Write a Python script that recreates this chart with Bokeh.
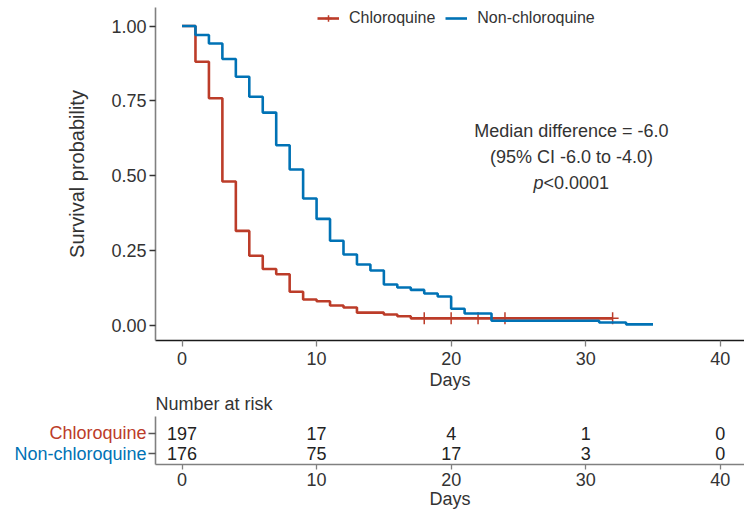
from bokeh.plotting import figure
from bokeh.layouts import column, row
from bokeh.models import Range1d, FixedTicker, Legend, LegendItem, NumeralTickFormatter
from bokeh.core.properties import value
from bokeh.embed import file_html
from bokeh.resources import INLINE

# ---------------- data ----------------
groups = ["Chloroquine", "Non-chloroquine"]

chl_time = [0, 1, 2, 3, 4, 5, 6, 7, 8, 9, 10, 11, 12, 13, 15, 16, 17, 32]
chl_surv = [1.0, 0.881, 0.759, 0.481, 0.316, 0.233, 0.189, 0.171, 0.113, 0.087,
            0.081, 0.067, 0.060, 0.043, 0.037, 0.031, 0.024, 0.024]

non_time = [0, 1, 2, 3, 4, 5, 6, 7, 8, 9, 10, 11, 12, 13, 14, 15, 16, 17, 18, 19,
            20, 21, 23, 31, 33, 35]
non_surv = [1.0, 0.970, 0.942, 0.890, 0.831, 0.764, 0.711, 0.602, 0.521, 0.424,
            0.356, 0.283, 0.237, 0.204, 0.184, 0.137, 0.127, 0.119, 0.107, 0.097,
            0.056, 0.040, 0.016, 0.010, 0.004, 0.004]

chl_censor_time = [18, 20, 22, 24, 32]
chl_censor_surv = [0.024, 0.024, 0.024, 0.024, 0.024]

risk_times = [0, 10, 20, 30, 40]
risk_chl = [197, 17, 4, 1, 0]
risk_non = [176, 75, 17, 3, 0]

x_ticks = [0, 10, 20, 30, 40]
y_ticks = [0.0, 0.25, 0.5, 0.75, 1.0]

annot_lines = ["Median difference = -6.0", "(95% CI -6.0 to -4.0)"]
p_italic = "p"
p_rest = "<0.0001"

# ---------------- style ----------------
RED = "#BC3C29"
BLUE = "#0072B5"
FONT = "Liberation Sans"
TXT = "#333333"
FS = "18px"

x_range = Range1d(-1.97, 41.8)


def style_axis(ax, line_color, tick_color):
    ax.axis_line_color = line_color
    ax.axis_line_width = 1.6
    ax.major_tick_line_color = tick_color
    ax.major_tick_line_width = 1.3
    ax.major_tick_out = 6
    ax.major_tick_in = 0
    ax.minor_tick_line_color = None
    ax.major_label_text_font = FONT
    ax.major_label_text_font_size = FS
    ax.major_label_text_color = TXT
    ax.axis_label_text_font = FONT
    ax.axis_label_text_font_size = FS
    ax.axis_label_text_font_style = "normal"
    ax.axis_label_text_color = TXT


# ---------------- main KM plot ----------------
p = figure(width=744, height=392, x_range=x_range, y_range=Range1d(-0.05, 1.062),
           output_backend="svg", toolbar_location=None,
           min_border_left=155, min_border_right=0, min_border_top=7, min_border_bottom=49)
p.outline_line_color = None
p.grid.grid_line_color = None

style_axis(p.xaxis[0], "#1a1a1a", "#808080")
style_axis(p.yaxis[0], "#808080", "#333333")
p.xaxis.ticker = FixedTicker(ticks=x_ticks)
p.yaxis.ticker = FixedTicker(ticks=y_ticks)
p.yaxis.formatter = NumeralTickFormatter(format="0.00")
p.xaxis.axis_label = "Days"
p.xaxis.major_label_standoff = 5
p.xaxis.axis_label_standoff = 2
p.yaxis.axis_label = "Survival probability"
p.yaxis.axis_label_text_font_size = "20px"
p.yaxis.major_label_standoff = 3
p.yaxis.axis_label_standoff = 20

r_chl = p.step(chl_time, chl_surv, mode="after", line_color=RED, line_width=2.6)
c_chl = p.scatter(chl_censor_time, chl_censor_surv, marker="cross", size=12,
                  line_color=RED, line_width=1.5)
r_non = p.step(non_time, non_surv, mode="after", line_color=BLUE, line_width=2.6)
c_non = p.scatter([], [], marker="cross", size=12, line_color=BLUE, line_width=1.5)

legend = Legend(items=[LegendItem(label=groups[0], renderers=[r_chl, c_chl]),
                       LegendItem(label=groups[1], renderers=[r_non, c_non])],
                orientation="horizontal", location=(162, 313),
                padding=0, margin=0, spacing=10, label_standoff=10,
                glyph_width=22, glyph_height=16, label_height=16,
                label_text_font=FONT, label_text_font_size="16px", label_text_color=TXT,
                background_fill_alpha=0, border_line_color=None)
p.add_layout(legend, "center")

ann_x = 28.94
ann_y = [0.650, 0.562]
p.text([ann_x, ann_x], ann_y, text=annot_lines, text_align="center", text_baseline="middle",
       text_font=value(FONT), text_font_size=FS, text_color=TXT)
p.text([26.86], [0.477], text=[p_italic], text_align="right", text_baseline="middle",
       text_font=value(FONT), text_font_size=FS, text_font_style="italic", text_color=TXT)
p.text([26.86], [0.477], text=[p_rest], text_align="left", text_baseline="middle",
       text_font=value(FONT), text_font_size=FS, text_color=TXT)

# ---------------- risk table ----------------
TOP, BOTTOM, H = 23, 48, 120
risk_y = Range1d(-0.517, 1.815)

t = figure(width=744 - 147, height=H, x_range=x_range, y_range=risk_y,
           output_backend="svg", toolbar_location=None,
           min_border_left=8, min_border_right=0, min_border_top=TOP, min_border_bottom=BOTTOM,
           title="Number at risk")
t.outline_line_color = None
t.grid.grid_line_color = None
t.title.text_font = FONT
t.title.text_font_size = FS
t.title.text_font_style = "normal"
t.title.text_color = TXT
t.title.align = "left"
t.title.vertical_align = "top"
t.title.standoff = 2
t.title.offset = 0

style_axis(t.xaxis[0], "#808080", "#808080")
style_axis(t.yaxis[0], "#808080", "#555555")
t.xaxis.ticker = FixedTicker(ticks=x_ticks)
t.xaxis.major_tick_out = 5
t.xaxis.major_label_standoff = 3
t.xaxis.axis_label = "Days"
t.xaxis.axis_label_standoff = 0
t.yaxis.ticker = FixedTicker(ticks=[0, 1])
t.yaxis.major_tick_out = 7
t.yaxis.major_label_standoff = 0
t.yaxis.major_label_overrides = {0: "", 1: ""}

t.text(risk_times, [1] * len(risk_times), text=[str(v) for v in risk_chl],
       text_align="center", text_baseline="middle", text_font=value(FONT),
       text_font_size=FS, text_color="#222222")
t.text(risk_times, [0] * len(risk_times), text=[str(v) for v in risk_non],
       text_align="center", text_baseline="middle", text_font=value(FONT),
       text_font_size=FS, text_color="#222222")

# group labels to the left of the risk table
lab = figure(width=147, height=H, x_range=Range1d(0, 1), y_range=risk_y,
             output_backend="svg", toolbar_location=None,
             x_axis_location=None, y_axis_location=None,
             min_border_left=0, min_border_right=0, min_border_top=TOP, min_border_bottom=BOTTOM)
lab.outline_line_color = None
lab.grid.grid_line_color = None
lab.text([1], [1], text=[groups[0]], x_offset=-1, text_align="right", text_baseline="middle",
         text_font=value(FONT), text_font_size=FS, text_color=RED)
lab.text([1], [0], text=[groups[1]], x_offset=-1, text_align="right", text_baseline="middle",
         text_font=value(FONT), text_font_size=FS, text_color=BLUE)

layout = column(p, row(lab, t, spacing=0), spacing=0)
open("out.html", "w").write(file_html(layout, INLINE))
